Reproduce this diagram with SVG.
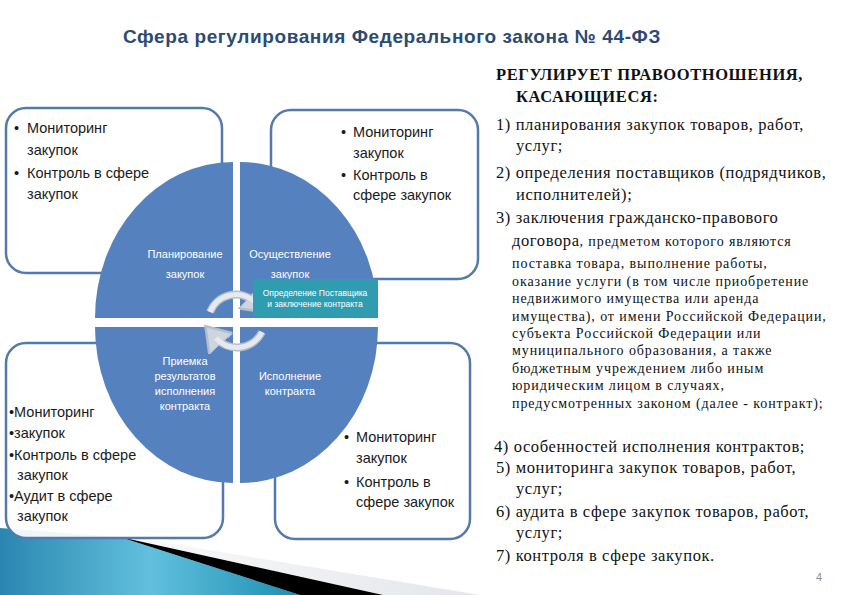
<svg xmlns="http://www.w3.org/2000/svg" width="842" height="595" viewBox="0 0 842 595">
<defs>
<style>
.box{fill:#ffffff;fill-opacity:0.92;stroke:#5479AC;stroke-width:2.5}
.bt{font-family:"Liberation Sans",Arial,sans-serif;font-size:14.5px;fill:#1a1a1a}
.q{fill:#5582BE}
.ql{font-family:"Liberation Sans",Arial,sans-serif;font-size:11px;fill:#ffffff;text-anchor:middle}
.rt{font-family:"Liberation Serif","DejaVu Serif",serif;font-size:16.5px;letter-spacing:0.6px;fill:#111111}
.rs{font-family:"Liberation Serif","DejaVu Serif",serif;font-size:14px;letter-spacing:0.9px;fill:#111111}
.arc{fill:none;stroke:#B4BDCB;stroke-width:8}
.arci{fill:none;stroke:#E6EAF0;stroke-width:5}
</style>
<linearGradient id="band" x1="0" y1="0" x2="1" y2="0">
<stop offset="0" stop-color="#2A86B0"/>
<stop offset="0.5" stop-color="#62C0DD"/>
<stop offset="1" stop-color="#1D8FB2"/>
</linearGradient>
<linearGradient id="gray" x1="0" y1="0" x2="1" y2="0">
<stop offset="0" stop-color="#ffffff"/>
<stop offset="1" stop-color="#E3E6EA"/>
</linearGradient>
<marker id="ah" markerWidth="4" markerHeight="4" refX="1" refY="2" orient="auto" markerUnits="strokeWidth">
<path d="M0,0 L3,2 L0,4 Z" fill="#CFD5DF" stroke="#B4BDCB" stroke-width="0.3"/>
</marker>
</defs>
<rect width="842" height="595" fill="#ffffff"/>

<g id="decoration">
<polygon points="40,522 480,595 383,595 120,537" fill="url(#gray)"/>
<polygon points="0,528 120,537 300,595 0,595" fill="url(#band)"/>
<polygon points="120,537 383,595 300,595" fill="#000000"/>
</g>

<text x="123" y="43" font-family="Liberation Sans,Arial,sans-serif" font-size="19" letter-spacing="0.6" font-weight="bold" fill="#2C4A72">Сфера регулирования Федерального закона № 44-ФЗ</text>

<g id="box-tl">
<rect class="box" x="6" y="108" width="216" height="165" rx="20"/>
<text class="bt"><tspan x="14" y="133">•</tspan><tspan x="27" y="133">Мониторинг</tspan><tspan x="27" y="155">закупок</tspan><tspan x="14" y="178">•</tspan><tspan x="27" y="178">Контроль в сфере</tspan><tspan x="27" y="199">закупок</tspan></text>
</g>
<g id="box-tr">
<rect class="box" x="271" y="110" width="207" height="169" rx="20"/>
<text class="bt"><tspan x="341" y="137">•</tspan><tspan x="353" y="137">Мониторинг</tspan><tspan x="353" y="158">закупок</tspan><tspan x="341" y="180">•</tspan><tspan x="353" y="180">Контроль в</tspan><tspan x="353" y="200">сфере закупок</tspan></text>
</g>
<g id="box-bl">
<rect class="box" x="6" y="343" width="217" height="195" rx="20"/>
<text class="bt"><tspan x="9" y="417">•Мониторинг</tspan><tspan x="9" y="438">•закупок</tspan><tspan x="9" y="460">•Контроль в сфере</tspan><tspan x="17" y="480">закупок</tspan><tspan x="9" y="501">•Аудит в сфере</tspan><tspan x="17" y="521">закупок</tspan></text>
</g>
<g id="box-br">
<rect class="box" x="275" y="343" width="195" height="196" rx="20"/>
<text class="bt"><tspan x="344" y="442">•</tspan><tspan x="356" y="442">Мониторинг</tspan><tspan x="356" y="463">закупок</tspan><tspan x="344" y="487">•</tspan><tspan x="356" y="487">Контроль в</tspan><tspan x="356" y="507">сфере закупок</tspan></text>
</g>

<g id="q-plan">
<path class="q" d="M233,318 L95,318 A138,156 0 0 1 233,162 Z"/>
<text class="ql"><tspan x="185" y="258">Планирование</tspan><tspan x="185" y="278">закупок</tspan></text>
</g>
<g id="q-exec">
<path class="q" d="M240,318 L240,162 A138,156 0 0 1 378,318 Z"/>
<text class="ql"><tspan x="290" y="258">Осуществление</tspan><tspan x="290" y="278">закупок</tspan></text>
</g>
<g id="q-accept">
<path class="q" d="M233,327 L233,483 A138,156 0 0 1 95,327 Z"/>
<text class="ql"><tspan x="185" y="365">Приемка</tspan><tspan x="185" y="380">результатов</tspan><tspan x="185" y="395">исполнения</tspan><tspan x="185" y="410">контракта</tspan></text>
</g>
<g id="q-perform">
<path class="q" d="M240,327 L378,327 A138,156 0 0 1 240,483 Z"/>
<text class="ql"><tspan x="290" y="380">Исполнение</tspan><tspan x="290" y="395">контракта</tspan></text>
</g>

<g id="connectors">
<path class="arc" d="M210,312 A28,28 0 0 1 255,302" marker-end="url(#ah)"/>
<path class="arci" d="M210,312 A28,28 0 0 1 255,302"/>
<path class="arc" d="M262,332 A28,28 0 0 1 216,338" marker-end="url(#ah)"/>
<path class="arci" d="M262,332 A28,28 0 0 1 216,338"/>
</g>

<g id="teal">
<rect x="253" y="279" width="125" height="38" rx="2" fill="#2F9CB0"/>
<text font-family="Liberation Sans,Arial,sans-serif" font-size="8.5" fill="#ffffff" text-anchor="middle"><tspan x="315" y="296">Определение  Поставщика</tspan><tspan x="315" y="307">и заключение  контракта</tspan></text>
</g>

<g id="right-text">
<text class="rt" font-weight="bold"><tspan x="496" y="80">РЕГУЛИРУЕТ ПРАВООТНОШЕНИЯ,</tspan><tspan x="516" y="102">КАСАЮЩИЕСЯ:</tspan></text>
<text class="rt"><tspan x="496" y="130">1) планирования закупок товаров, работ,</tspan><tspan x="516" y="151">услуг;</tspan><tspan x="496" y="178">2) определения поставщиков (подрядчиков,</tspan><tspan x="516" y="200">исполнителей);</tspan><tspan x="496" y="223">3) заключения гражданско-правового</tspan><tspan x="512" y="246">договора</tspan><tspan class="rs">, предметом которого являются</tspan></text>
<text class="rs"><tspan x="512" y="268">поставка товара, выполнение работы,</tspan><tspan x="512" y="286">оказание услуги (в том числе приобретение</tspan><tspan x="512" y="303">недвижимого имущества или аренда</tspan><tspan x="512" y="321">имущества), от имени Российской Федерации,</tspan><tspan x="512" y="338">субъекта Российской Федерации или</tspan><tspan x="512" y="355">муниципального образования, а также</tspan><tspan x="512" y="373">бюджетным учреждением либо иным</tspan><tspan x="512" y="390">юридическим лицом в случаях,</tspan><tspan x="512" y="408">предусмотренных законом (далее - контракт);</tspan></text>
<text class="rt"><tspan x="494" y="452">4) особенностей исполнения контрактов;</tspan><tspan x="496" y="473">5) мониторинга закупок товаров, работ,</tspan><tspan x="516" y="494">услуг;</tspan><tspan x="496" y="517">6) аудита в сфере закупок товаров, работ,</tspan><tspan x="516" y="538">услуг;</tspan><tspan x="496" y="561">7) контроля в сфере закупок.</tspan></text>
<text x="816" y="581" font-family="Liberation Sans,Arial,sans-serif" font-size="11" fill="#8C8C8C">4</text>
</g>
</svg>
